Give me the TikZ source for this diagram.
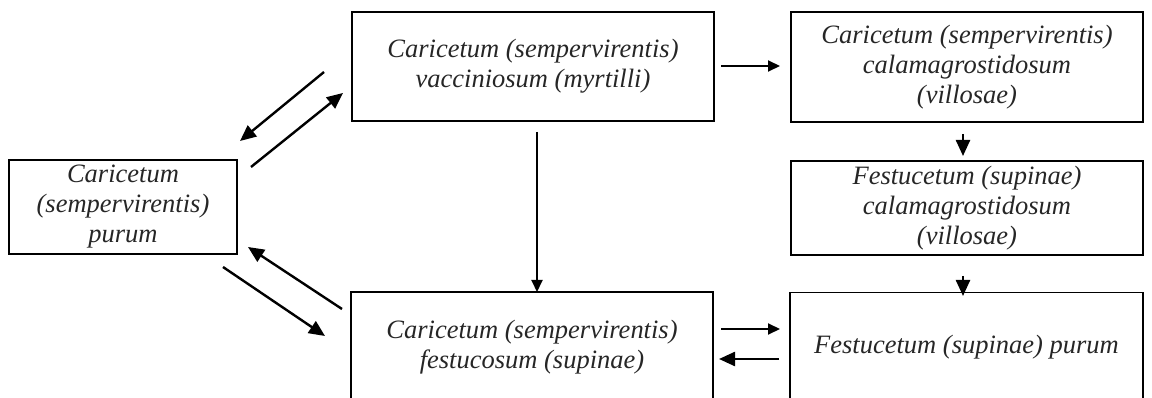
\documentclass[tikz,border=0pt]{standalone}
\usepackage{fontspec}
\setmainfont{Liberation Serif}
\usetikzlibrary{arrows.meta}
\begin{document}
\begin{tikzpicture}[x=1pt,y=-1pt,
  box/.style={draw=black, line width=1.5pt, inner sep=0pt, align=center,
    font=\fontsize{26.5}{30}\selectfont\itshape, text=black!85},
  arr/.style={line width=2.4pt, -{Triangle[length=16pt,width=14pt]}},
  sarr/.style={line width=2pt, -{Triangle[length=12pt,width=11pt]}}]
\useasboundingbox (0,0) rectangle (1152,398);
\clip (0,0) rectangle (1152,398);
% boxes
\node[box, minimum width=228pt, minimum height=94pt] (L) at (123,207)
  {Caricetum\\(sempervirentis)\\purum};
\node[box, minimum width=362pt, minimum height=109pt] (TM) at (533,66.5)
  {Caricetum (sempervirentis)\\vacciniosum (myrtilli)};
\node[box, minimum width=352pt, minimum height=110pt] (TR) at (967,67)
  {Caricetum (sempervirentis)\\calamagrostidosum\\(villosae)};
\node[box, minimum width=352pt, minimum height=94pt] (MR) at (967,208)
  {Festucetum (supinae)\\calamagrostidosum\\(villosae)};
\node[box, minimum width=362pt, minimum height=110pt] (BL) at (532,347)
  {Caricetum (sempervirentis)\\festucosum (supinae)};
\node[box, minimum width=353pt, minimum height=110pt] (BR) at (966.5,347.5)
  {Festucetum (supinae) purum};
% connector end points
\coordinate (a1s) at (324,72);  \coordinate (a1e) at (240,141);
\coordinate (a2s) at (251,167); \coordinate (a2e) at (343,93);
\coordinate (a3s) at (342,309); \coordinate (a3e) at (248,247);
\coordinate (a4s) at (223,267); \coordinate (a4e) at (325,336);
\coordinate (a5s) at (721,66);  \coordinate (a5e) at (780,66);
\coordinate (a6s) at (721,329); \coordinate (a6e) at (780,329);
\coordinate (a7s) at (779,359); \coordinate (a7e) at (719,359);
\coordinate (a8s) at (537,132); \coordinate (a8e) at (537,292);
\coordinate (a9s) at (963,134); \coordinate (a9e) at (963,156);
\coordinate (a10s) at (963,276); \coordinate (a10e) at (963,296);
% connectors
\draw[arr] (a1s) -- (a1e);
\draw[arr] (a2s) -- (a2e);
\draw[arr] (a3s) -- (a3e);
\draw[arr] (a4s) -- (a4e);
\draw[sarr] (a5s) -- (a5e);
\draw[sarr] (a6s) -- (a6e);
\draw[arr] (a7s) -- (a7e);
\draw[sarr] (a8s) -- (a8e);
\draw[arr] (a9s) -- (a9e);
\draw[arr] (a10s) -- (a10e);
\end{tikzpicture}
\end{document}
